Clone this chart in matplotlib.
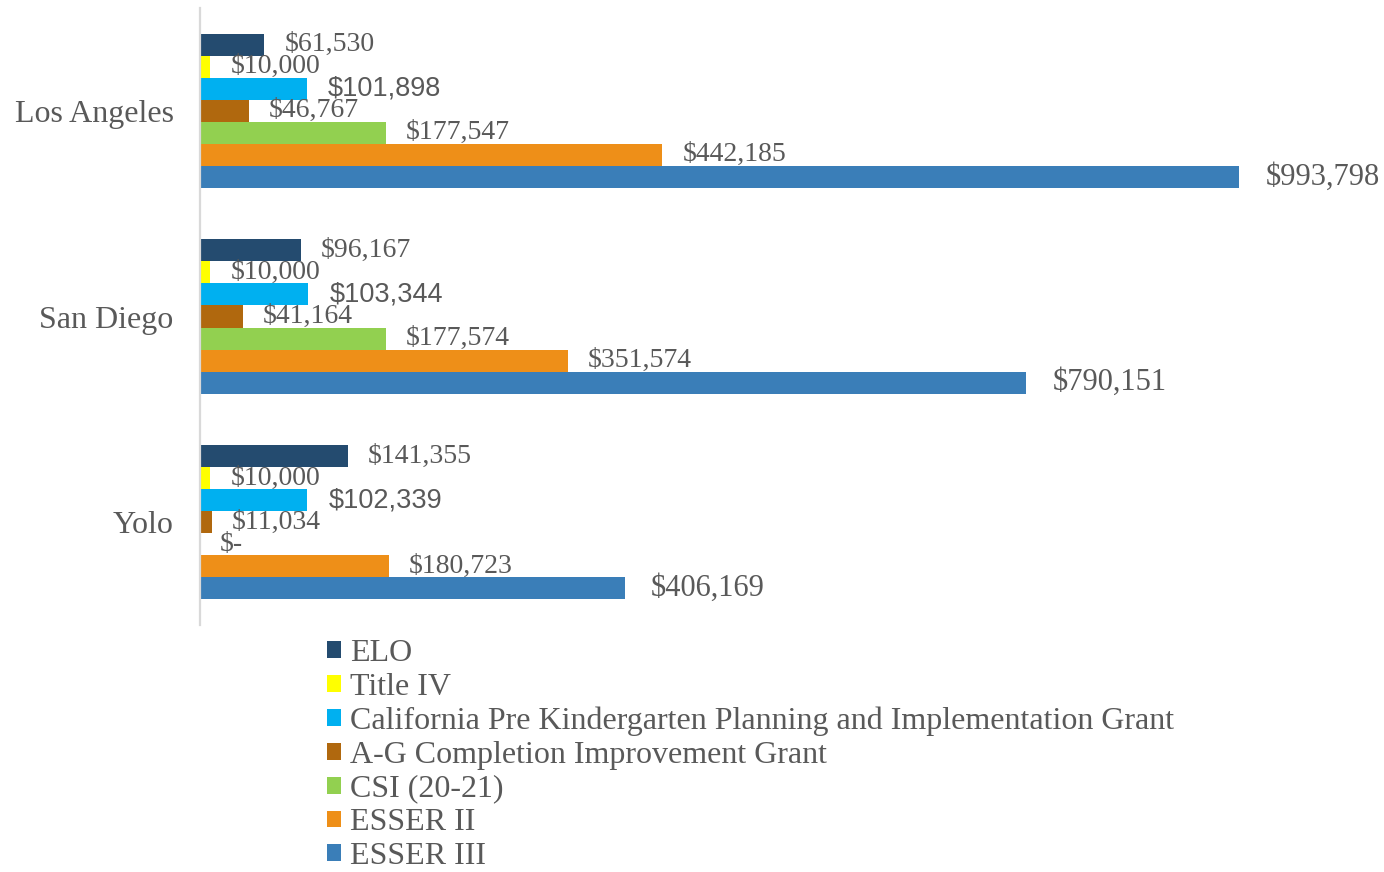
import matplotlib
matplotlib.use("Agg")
import matplotlib.pyplot as plt
from matplotlib.patches import Patch

# Funding by county and program
counties = ["Los Angeles", "San Diego", "Yolo"]
programs = [
    "ELO",
    "Title IV",
    "California Pre Kindergarten Planning and Implementation Grant",
    "A-G Completion Improvement Grant",
    "CSI (20-21)",
    "ESSER II",
    "ESSER III",
]
elo = [61530, 96167, 141355]
title_iv = [10000, 10000, 10000]
prek = [101898, 103344, 102339]
a_g = [46767, 41164, 11034]
csi = [177547, 177574, 0]
esser_ii = [442185, 351574, 180723]
esser_iii = [993798, 790151, 406169]

series = [elo, title_iv, prek, a_g, csi, esser_ii, esser_iii]
colors = ["#244b6f", "#ffff00", "#00b0f0", "#b0680e", "#92d050", "#ee8f18", "#3a7eb8"]

GRAY = "#595959"
SERIF = ["Liberation Serif", "DejaVu Serif"]
SANS = ["Liberation Sans", "DejaVu Sans"]


def money(v):
    return "$-" if v == 0 else f"${v:,.0f}"


fig = plt.figure(figsize=(13.84, 8.72), dpi=100)
ax = fig.add_axes([200 / 1384, 1 - 625 / 872, 1184 / 1384, 617 / 872])

bar_h = 0.107
n = len(series)
for i, (vals, col, name) in enumerate(zip(series, colors, programs)):
    offs = (i - (n - 1) / 2) * bar_h
    ys = [k + offs for k in range(len(counties))]
    ax.barh(ys, vals, height=bar_h, color=col, label=name, linewidth=0)
    for y, v in zip(ys, vals):
        if name == "ESSER III":
            fs, fam, dx = 22, SERIF, 19
        elif name.startswith("California"):
            fs, fam, dx = 19.5, SANS, 15.5
        else:
            fs, fam, dx = 20, SERIF, 14.5
        ax.annotate(money(v), (v, y), xytext=(dx, 0), textcoords="offset points",
                    va="center", ha="left", fontsize=fs, family=fam, color=GRAY)

ax.set_xlim(0, 1.132e6)
ax.set_ylim(2.5, -0.5)
ax.set_yticks(range(len(counties)))
ax.set_yticklabels(counties, fontsize=23, family=SERIF, color=GRAY)
ax.tick_params(axis="y", length=0, pad=19)
ax.set_xticks([])
for s in ["top", "right", "bottom"]:
    ax.spines[s].set_visible(False)
ax.spines["left"].set_color("#d9d9d9")
ax.spines["left"].set_linewidth(1.6)

handles = [Patch(facecolor=c, edgecolor="none") for c in colors]
leg = fig.legend(handles, programs, loc="upper left",
                 bbox_to_anchor=(327 / 1384, 1 - 639 / 872),
                 frameon=False, prop={"family": SERIF, "size": 23},
                 handlelength=0.43, handleheight=0.43, handletextpad=0.3,
                 labelspacing=0.15, borderpad=0, borderaxespad=0)
for t in leg.get_texts():
    t.set_color(GRAY)

fig.savefig("out.png", dpi=100)
